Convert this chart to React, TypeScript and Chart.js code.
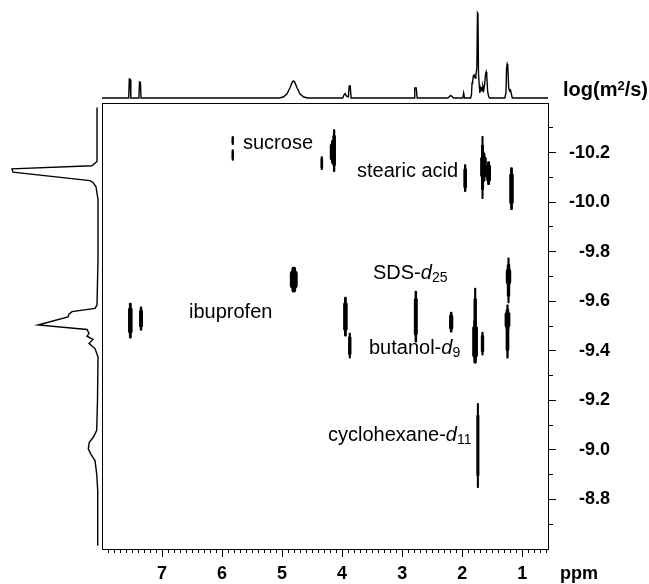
import React, { useEffect, useRef } from "react";
import { Chart, registerables } from "chart.js";
Chart.register(...registerables);

const FONT = 'Arial, "Liberation Sans", Helvetica, sans-serif';

// axis ranges
const PPM_MIN = 0.57;
const PPM_MAX = 8.0;
const LOGD_MIN = -10.4;
const LOGD_MAX = -8.6;

// tick labels
const xMajorTicks = [7, 6, 5, 4, 3, 2, 1];
const yMajorTicks = [-10.2, -10.0, -9.8, -9.6, -9.4, -9.2, -9.0, -8.8];
const yMinorTicks = [-10.3, -10.1, -9.9, -9.7, -9.5, -9.3, -9.1, -8.9, -8.7];

// 1H projection on top: [ppm, intensity]
const topProjection: [number, number][] = [
  [8.0, 0], [7.555, 0], [7.545, 19], [7.53, 18.5], [7.52, 0],
  [7.385, 0], [7.375, 16], [7.36, 15.5], [7.35, 0],
  [5.05, 0], [4.98, 1], [4.92, 4], [4.87, 10], [4.83, 16], [4.81, 17], [4.79, 16], [4.75, 10], [4.7, 4], [4.64, 1], [4.57, 0],
  [3.99, 0], [3.97, 3], [3.95, 4.5], [3.93, 2], [3.895, 1], [3.882, 12], [3.865, 12], [3.85, 0],
  [2.8, 0], [2.79, 10], [2.765, 10], [2.75, 0],
  [2.24, 0], [2.19, 2.5], [2.14, 0],
  [1.99, 0], [1.975, 5], [1.96, 0],
  [1.86, 0], [1.845, 3], [1.835, 15], [1.825, 16], [1.815, 22], [1.8, 23], [1.785, 20], [1.77, 24], [1.755, 30],
  [1.745, 85], [1.737, 84], [1.728, 25], [1.715, 12], [1.705, 5], [1.695, 10], [1.685, 8], [1.675, 11], [1.665, 7],
  [1.655, 12], [1.64, 8], [1.625, 14], [1.61, 24], [1.6, 26], [1.59, 22], [1.575, 6], [1.56, 2], [1.545, 0],
  [1.29, 0], [1.27, 5], [1.26, 30], [1.25, 34], [1.24, 32], [1.225, 10], [1.21, 7], [1.195, 8], [1.18, 4], [1.165, 0],
  [0.57, 0],
];

// diffusion projection on the left: [intensity, log D]
const leftProjection: [number, number][] = [
  [2, -10.382], [2, -10.164], [7, -10.147], [87, -10.134], [86, -10.121], [9, -10.087], [6, -10.079], [3, -10.062],
  [1, -10.01], [1, -9.767], [2, -9.585], [4, -9.571], [27, -9.558], [30, -9.548], [31, -9.537], [61, -9.504],
  [12, -9.486], [10, -9.47], [12, -9.459], [6, -9.446], [10, -9.43], [4, -9.409], [1, -9.375], [1.5, -9.2],
  [2.3, -9.079], [5.7, -9.051], [9.7, -9.031], [10.7, -9.004], [8.3, -8.984], [4, -8.957], [2.3, -8.903],
  [1.3, -8.836], [1.3, -8.613],
];

// DOSY cross peaks: chemical shift, log D extent, width in ppm
const spotPpm = [5.822, 5.822, 4.338, 4.133, 4.155, 1.95, 1.661, 1.645, 1.56, 1.178,
  7.528, 7.35, 4.805, 3.945, 3.872, 2.772, 2.183, 1.783, 1.785, 1.661, 1.228, 1.228, 1.245, 1.245, 1.738];
const spotLogDFrom = [-10.265, -10.212, -10.184, -10.293, -10.249, -10.151, -10.265, -10.2, -10.164, -10.139,
  -9.593, -9.577, -9.738, -9.617, -9.471, -9.641, -9.556, -9.653, -9.524, -9.475, -9.775, -9.742, -9.585, -9.568, -9.188];
const spotLogDTo = [-10.232, -10.168, -10.131, -10.123, -10.155, -10.042, -10.014, -10.083, -10.07, -9.969,
  -9.451, -9.483, -9.637, -9.459, -9.37, -9.435, -9.475, -9.35, -9.35, -9.382, -9.593, -9.657, -9.37, -9.483, -8.848];
const spotWidthPpm = [0.025, 0.025, 0.033, 0.05, 0.09, 0.05, 0.04, 0.1, 0.07, 0.065,
  0.065, 0.055, 0.12, 0.065, 0.045, 0.055, 0.06, 0.045, 0.085, 0.045, 0.045, 0.08, 0.05, 0.085, 0.04];

const framePlugin = {
  id: "frame",
  afterDatasetsDraw(chart: any) {
    const { ctx, chartArea } = chart;
    const { left, top, right, bottom } = chartArea;
    ctx.save();
    ctx.strokeStyle = "#000";
    ctx.lineWidth = 1;
    ctx.strokeRect(Math.round(left) + 0.5, Math.round(top) + 0.5, Math.round(right - left), Math.round(bottom - top));
    ctx.restore();
  },
};

function Txt({ left, baseline, size, bold, children }: any) {
  return (
    <div
      style={{
        position: "absolute",
        left,
        top: baseline - Math.round(size * 0.8465),
        fontSize: size,
        lineHeight: `${size}px`,
        fontWeight: bold ? "bold" : "normal",
        whiteSpace: "nowrap",
        color: "#000",
        fontFamily: FONT,
      }}
    >
      {children}
    </div>
  );
}

const subStyle: any = { fontSize: "0.7em", position: "relative", top: "0.22em" };

export default function App() {
  const topRef = useRef<HTMLCanvasElement>(null);
  const leftRef = useRef<HTMLCanvasElement>(null);
  const mainRef = useRef<HTMLCanvasElement>(null);

  useEffect(() => {
    const charts: Chart[] = [];

    charts.push(
      new Chart(topRef.current as HTMLCanvasElement, {
        type: "line",
        data: {
          datasets: [
            {
              data: topProjection.map(([p, v]) => ({ x: p, y: v })),
              borderColor: "#000",
              borderWidth: 1.4,
              pointRadius: 0,
              tension: 0,
              fill: false,
              clip: false,
            } as any,
          ],
        },
        options: {
          responsive: false,
          animation: false,
          events: [],
          layout: { padding: { left: 102, right: 101, top: 3, bottom: 5 } },
          plugins: { legend: { display: false }, tooltip: { enabled: false } },
          scales: {
            x: { type: "linear", min: PPM_MIN, max: PPM_MAX, reverse: true, display: false },
            y: { type: "linear", min: 0, max: 95, display: false },
          },
        },
      })
    );

    charts.push(
      new Chart(leftRef.current as HTMLCanvasElement, {
        type: "scatter",
        data: {
          datasets: [
            {
              data: leftProjection.map(([v, d]) => ({ x: v, y: d })),
              showLine: true,
              borderColor: "#000",
              borderWidth: 1.4,
              pointRadius: 0,
              tension: 0,
              clip: false,
            } as any,
          ],
        },
        options: {
          responsive: false,
          animation: false,
          events: [],
          layout: { padding: { left: 8, right: 3, top: 103, bottom: 35 } },
          plugins: { legend: { display: false }, tooltip: { enabled: false } },
          scales: {
            x: { type: "linear", min: 0, max: 91, reverse: true, display: false },
            y: { type: "linear", min: LOGD_MIN, max: LOGD_MAX, reverse: true, display: false },
          },
        },
      })
    );

    const xMinor: number[] = [];
    for (let i = 6; i <= 80; i++) if (i % 10 !== 0) xMinor.push(i / 10);

    // each contour is drawn as a thin full-length core plus a wider, shorter body (tapered ends)
    const datasets: any[] = [];
    const widthOf: number[] = [];
    spotPpm.forEach((p, i) => {
      const a = spotLogDFrom[i];
      const b = spotLogDTo[i];
      const inset = (b - a) * 0.14;
      datasets.push({
        data: [{ x: p, y: [a, b] }],
        backgroundColor: "#000",
        borderWidth: 0,
        borderSkipped: false,
        borderRadius: 30,
        grouped: false,
        barThickness: 2,
      });
      widthOf.push(spotWidthPpm[i] * 0.55);
      datasets.push({
        data: [{ x: p, y: [a + inset, b - inset] }],
        backgroundColor: "#000",
        borderWidth: 0,
        borderSkipped: false,
        borderRadius: 30,
        grouped: false,
        barThickness: 2,
      });
      widthOf.push(spotWidthPpm[i]);
    });

    const main = new Chart(mainRef.current as HTMLCanvasElement, {
      type: "bar",
      data: { datasets },
      options: {
        responsive: false,
        animation: false,
        events: [],
        layout: { padding: { left: 102, top: 103, right: 39, bottom: 0 } },
        plugins: { legend: { display: false }, tooltip: { enabled: false } },
        scales: {
          x: {
            type: "linear",
            position: "bottom",
            min: PPM_MIN,
            max: PPM_MAX,
            reverse: true,
            bounds: "data",
            offset: false,
            afterBuildTicks: (s: any) => {
              s.ticks = [
                ...xMajorTicks.map((v) => ({ value: v, major: true })),
                ...xMinor.map((v) => ({ value: v, major: false })),
              ].sort((a, b) => b.value - a.value);
            },
            afterFit: (s: any) => {
              s.height = 35;
            },
            grid: {
              display: true,
              offset: false,
              drawOnChartArea: false,
              drawTicks: true,
              tickLength: 8,
              tickColor: "#000",
              tickWidth: 1,
              tickBorderDash: (c: any) => (c.tick && c.tick.major ? [] : [3, 40]),
            },
            border: { display: true, color: "#000", width: 1 },
            ticks: {
              autoSkip: false,
              maxRotation: 0,
              minRotation: 0,
              padding: 6,
              color: "#000",
              font: { family: FONT, size: 18, weight: "bold" },
              callback: (v: any, i: number, t: any[]) => (t[i] && t[i].major ? String(Math.round(Number(v))) : ""),
            },
          },
          y: {
            type: "linear",
            position: "right",
            min: LOGD_MIN,
            max: LOGD_MAX,
            reverse: true,
            bounds: "data",
            afterBuildTicks: (s: any) => {
              s.ticks = [
                ...yMajorTicks.map((v) => ({ value: v, major: true })),
                ...yMinorTicks.map((v) => ({ value: v, major: false })),
              ].sort((a, b) => a.value - b.value);
            },
            afterFit: (s: any) => {
              s.width = 62;
            },
            grid: {
              display: true,
              drawOnChartArea: false,
              drawTicks: true,
              tickLength: 8,
              tickColor: "#000",
              tickWidth: 1,
              tickBorderDash: (c: any) => (c.tick && c.tick.major ? [] : [4, 40]),
            },
            border: { display: true, color: "#000", width: 1 },
            ticks: {
              autoSkip: false,
              crossAlign: "far",
              padding: 13,
              color: "#000",
              font: { family: FONT, size: 18, weight: "bold" },
              callback: (v: any, i: number, t: any[]) => (t[i] && t[i].major ? Number(v).toFixed(1) : ""),
            },
          },
        } as any,
      },
      plugins: [framePlugin],
    });

    const xs: any = main.scales.x;
    main.data.datasets.forEach((ds: any, k: number) => {
      const p = (ds.data[0] as any).x;
      const w = Math.abs(xs.getPixelForValue(p + widthOf[k] / 2) - xs.getPixelForValue(p - widthOf[k] / 2));
      ds.barThickness = Math.max(1.4, w);
    });
    main.update();
    charts.push(main);

    return () => charts.forEach((c) => c.destroy());
  }, []);

  const canvasStyle: any = { position: "absolute", left: 0, top: 0, display: "block" };

  return (
    <div
      style={{
        position: "fixed",
        left: 0,
        top: 0,
        width: 649,
        height: 584,
        background: "#fff",
        overflow: "hidden",
        fontFamily: FONT,
      }}
    >
      <canvas ref={topRef} width={649} height={103} style={canvasStyle} />
      <canvas ref={leftRef} width={102} height={584} style={canvasStyle} />
      <canvas ref={mainRef} width={649} height={584} style={canvasStyle} />

      <Txt left={563} baseline={96} size={20} bold>
        log(m<span style={{ fontSize: "0.65em", position: "relative", top: "-0.5em" }}>2</span>/s)
      </Txt>
      <Txt left={560} baseline={579} size={18} bold>
        ppm
      </Txt>

      <Txt left={243} baseline={149} size={20}>sucrose</Txt>
      <Txt left={357} baseline={177} size={20}>stearic acid</Txt>
      <Txt left={373} baseline={279} size={20}>
        SDS-<i>d</i>
        <span style={subStyle}>25</span>
      </Txt>
      <Txt left={189} baseline={318} size={20}>ibuprofen</Txt>
      <Txt left={369} baseline={354} size={20}>
        butanol-<i>d</i>
        <span style={subStyle}>9</span>
      </Txt>
      <Txt left={328} baseline={441} size={20}>
        cyclohexane-<i>d</i>
        <span style={subStyle}>11</span>
      </Txt>
    </div>
  );
}
